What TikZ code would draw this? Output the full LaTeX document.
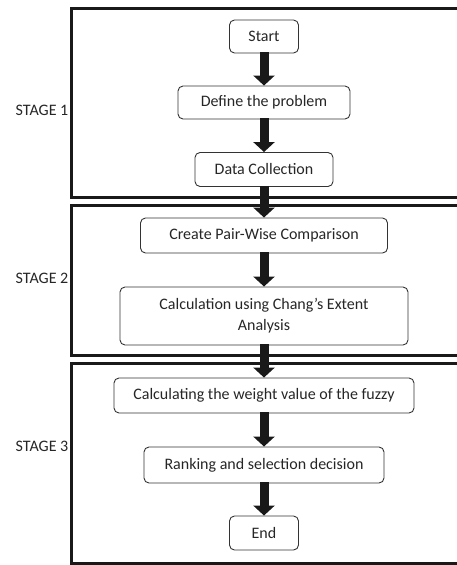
\documentclass[tikz,border=0pt]{standalone}
\usepackage{fontspec}
\setmainfont{Carlito}
\usepackage{xcolor}
\usepackage{tikz}
\usetikzlibrary{arrows.meta}

\begin{document}
\begin{tikzpicture}[x=1pt, y=-1pt,
    every node/.style={font=\fontsize{16}{21}\selectfont, text=black!85},
    stepbox/.style={draw=black!80, line width=0.9pt, rounded corners=5pt, align=center, inner sep=0pt},
    stagebox/.style={draw=black!90, line width=3pt},
    flowarrow/.style={draw=black!90, line width=9pt, -{Triangle[width=21pt, length=10pt]}, shorten <=-1pt}]
    \useasboundingbox (0,0) rectangle (457,565);
    \clip (0,0) rectangle (457,565);
    % stage frames
    \draw[stagebox] (471,8)   -- (71,8)   -- (71,197) -- (471,197);
    \draw[stagebox] (471,205) -- (71,205) -- (71,355) -- (471,355);
    \draw[stagebox] (471,363) -- (71,363) -- (71,563) -- (471,563);
    \node[anchor=east, inner xsep=0pt] (s1) at (68.5,110) {STAGE 1};
    \node[anchor=east, inner xsep=0pt] (s2) at (68.5,278) {STAGE 2};
    \node[anchor=east, inner xsep=0pt] (s3) at (68.5,446) {STAGE 3};
    % steps
    \node[stepbox, minimum width=69pt,  minimum height=33pt] (start)  at (264,36.5)  {Start};
    \node[stepbox, minimum width=172pt, minimum height=33pt] (define) at (264,102.5) {Define the problem};
    \node[stepbox, minimum width=138pt, minimum height=34pt] (data)   at (264,169.5) {Data Collection};
    \node[stepbox, minimum width=247pt, minimum height=35pt] (pair)   at (264,235.5) {Create Pair-Wise Comparison};
    \node[stepbox, minimum width=288pt, minimum height=58pt] (chang)  at (264,316)   {Calculation using Chang’s Extent\\Analysis};
    \node[stepbox, minimum width=300pt, minimum height=35pt] (weight) at (264,395.5) {Calculating the weight value of the fuzzy};
    \node[stepbox, minimum width=240pt, minimum height=36pt] (rank)   at (264,465)   {Ranking and selection decision};
    \node[stepbox, minimum width=69pt,  minimum height=34pt] (finish) at (264,533)   {End};
    % arrows
    \draw[flowarrow] (start)  -- (define);
    \draw[flowarrow] (define) -- (data);
    \draw[flowarrow] (data)   -- (pair);
    \draw[flowarrow] (pair)   -- (chang);
    \draw[flowarrow] (chang)  -- (weight);
    \draw[flowarrow] (weight) -- (rank);
    \draw[flowarrow] (rank)   -- (finish);
\end{tikzpicture}
\end{document}
